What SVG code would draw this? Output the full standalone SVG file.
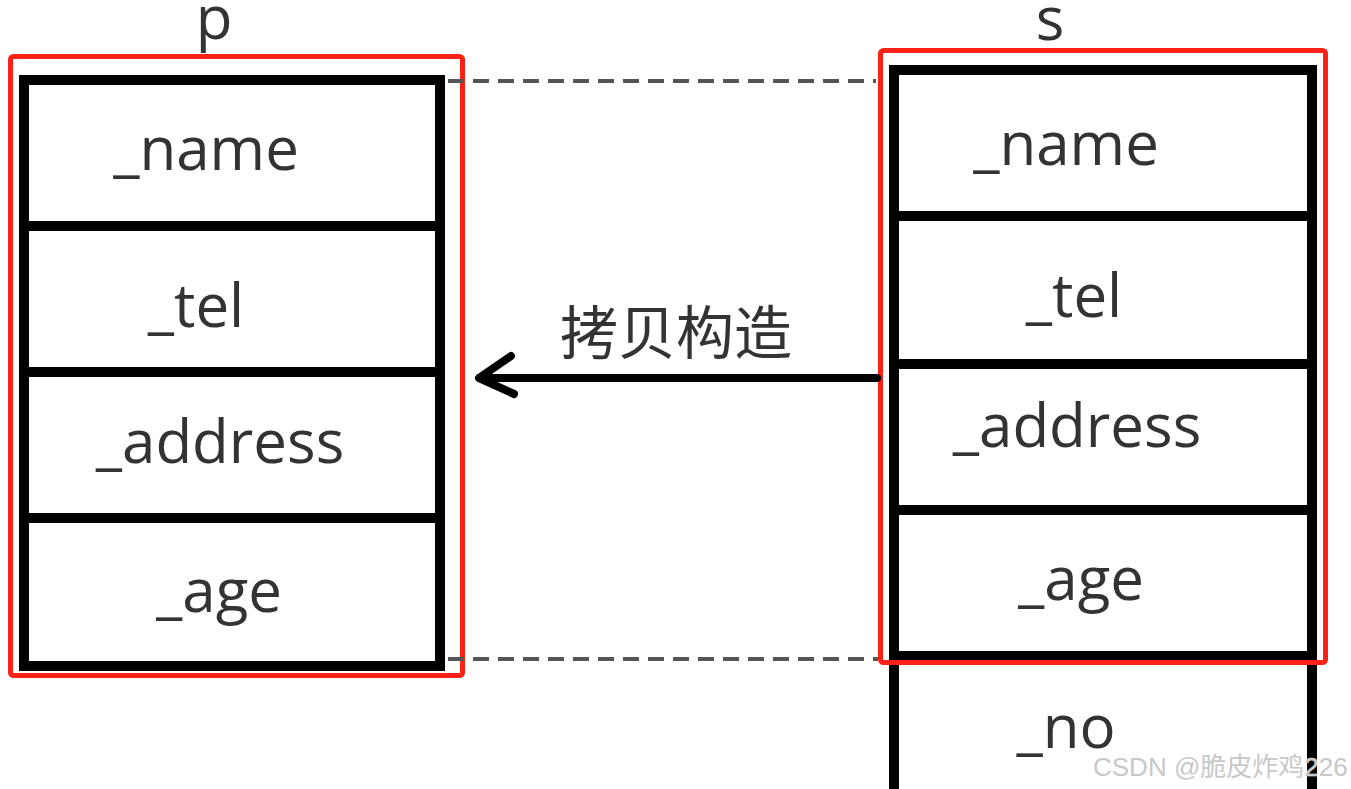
<svg xmlns="http://www.w3.org/2000/svg" width="1351" height="789" viewBox="0 0 1351 789">
  <style>
    .box { fill: #ffffff; stroke: #000000; stroke-width: 10; }
    .div { stroke: #000000; stroke-width: 10; }
    .frame { fill: none; stroke: #fe2116; stroke-width: 5; }
    .field { font-family: "Open Sans", "Noto Sans", "DejaVu Sans", sans-serif; font-size: 60px; fill: #333333; text-anchor: middle; }
    .title { font-family: "Open Sans", "Noto Sans", "DejaVu Sans", sans-serif; font-size: 60px; fill: #333333; text-anchor: middle; }
    .lbl { font-family: "Noto Sans CJK SC", "Noto Sans", sans-serif; font-size: 58px; fill: #333333; text-anchor: middle; }
    .dash { stroke: #555555; stroke-width: 4; stroke-dasharray: 16 9; fill: none; }
    .arrow { stroke: #000000; stroke-width: 8; fill: none; stroke-linecap: round; stroke-linejoin: round; }
    .wm { font-family: "Liberation Sans", "Noto Sans CJK SC", sans-serif; font-size: 26px; fill: #c8c8c8; stroke: #ffffff; stroke-width: 0.6; paint-order: stroke; }
  </style>
  <rect width="1351" height="789" fill="#ffffff"/>

  <g id="node-p">
    <text class="title" x="214" y="39">p</text>
    <rect class="box" x="24" y="80" width="416" height="586"/>
    <line class="div" x1="24" y1="226" x2="440" y2="226"/>
    <line class="div" x1="24" y1="372" x2="440" y2="372"/>
    <line class="div" x1="24" y1="518" x2="440" y2="518"/>
    <text class="field" x="206" y="170">_name</text>
    <text class="field" x="196" y="327">_tel</text>
    <text class="field" x="220" y="463">_address</text>
    <text class="field" x="219" y="612">_age</text>
    <rect class="frame" x="10.5" y="56.5" width="452" height="619" rx="3"/>
  </g>

  <g id="node-s">
    <text class="title" x="1050" y="40">s</text>
    <rect class="box" x="894" y="70" width="418" height="800"/>
    <line class="div" x1="894" y1="216" x2="1312" y2="216"/>
    <line class="div" x1="894" y1="364" x2="1312" y2="364"/>
    <line class="div" x1="894" y1="510" x2="1312" y2="510"/>
    <line class="div" x1="894" y1="656" x2="1312" y2="656"/>
    <text class="field" x="1066" y="165">_name</text>
    <text class="field" x="1074" y="317">_tel</text>
    <text class="field" x="1077" y="447">_address</text>
    <text class="field" x="1081" y="600">_age</text>
    <text class="field" x="1066" y="748">_no</text>
    <rect class="frame" x="880.5" y="50.5" width="445" height="612" rx="3"/>
  </g>

  <g id="connectors">
    <line class="dash" x1="448" y1="81" x2="876" y2="81"/>
    <line class="dash" x1="448" y1="659" x2="878" y2="659"/>
    <line class="arrow" x1="877" y1="378" x2="480" y2="378"/>
    <polyline class="arrow" points="511,356 479,378 514,394"/>
    <text class="lbl" x="676" y="354">拷贝构造</text>
  </g>

  <text class="wm" x="1093" y="776">CSDN @脆皮炸鸡226</text>
</svg>
